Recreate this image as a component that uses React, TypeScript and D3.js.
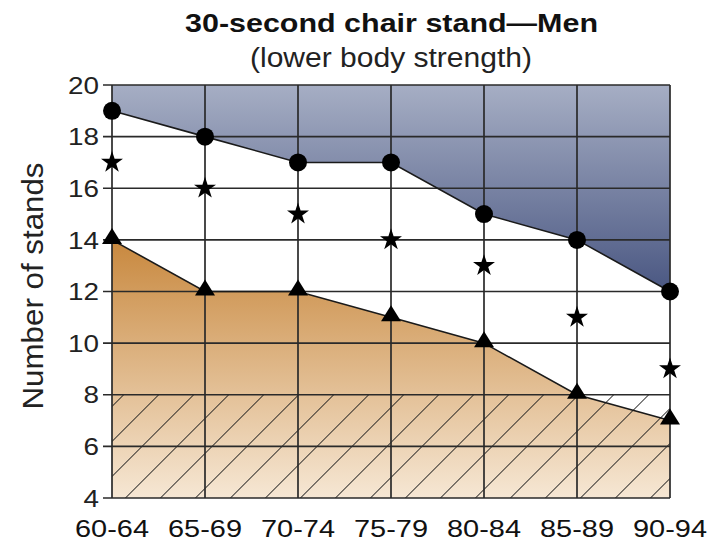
import React from "react";
import * as d3 from "d3";

const ageGroups = ["60-64", "65-69", "70-74", "75-79", "80-84", "85-89", "90-94"];
const upperValues = [19, 18, 17, 17, 15, 14, 12];
const starValues = [17, 16, 15, 14, 13, 11, 9];
const lowerValues = [14, 12, 12, 11, 10, 8, 7];
const yTicks = [4, 6, 8, 10, 12, 14, 16, 18, 20];
const hatchTop = 8;

const W = 713;
const H = 542;
const left = 112;
const right = 670;
const top = 85;
const bottom = 498;

export default function App() {
  const x = d3.scalePoint<string>().domain(ageGroups).range([left, right]);
  const y = d3.scaleLinear().domain([4, 20]).range([bottom, top]);

  const line = d3
    .line<number>()
    .x((_, i) => x(ageGroups[i]) as number)
    .y((d) => y(d));
  const upperArea = d3
    .area<number>()
    .x((_, i) => x(ageGroups[i]) as number)
    .y0(y(20))
    .y1((d) => y(d));
  const lowerArea = d3
    .area<number>()
    .x((_, i) => x(ageGroups[i]) as number)
    .y0(y(4))
    .y1((d) => y(d));

  const star = d3.symbol().type(d3.symbolStar).size(150)();
  const tri = (cx: number, cy: number) => {
    const w = 20;
    const h = 16;
    const b = cy + 4;
    return `M${cx - w / 2},${b}L${cx + w / 2},${b}L${cx},${b - h}Z`;
  };

  const grid = "#2a2a2a";
  const font = "Liberation Sans, Arial, Helvetica, sans-serif";

  return (
    <svg width={W} height={H} style={{ position: "absolute", left: 0, top: 0, background: "#fff" }}>
      <defs>
        <linearGradient id="blueGrad" x1="0" y1={y(20)} x2="0" y2={y(12)} gradientUnits="userSpaceOnUse">
          <stop offset="0" stopColor="#a6aec4" />
          <stop offset="1" stopColor="#4a5782" />
        </linearGradient>
        <linearGradient id="tanGrad" x1="0" y1={y(14)} x2="0" y2={y(4)} gradientUnits="userSpaceOnUse">
          <stop offset="0" stopColor="#c8883e" />
          <stop offset="1" stopColor="#f6e7d4" />
        </linearGradient>
        <pattern
          id="hatch"
          patternUnits="userSpaceOnUse"
          width={24.75}
          height={24.75}
          patternTransform="translate(27.7,0) rotate(45)"
        >
          <line x1={0} y1={0} x2={0} y2={24.75} stroke="#1a1a1a" strokeWidth={1.7} />
        </pattern>
        <clipPath id="hatchClip">
          <rect x={left} y={y(hatchTop)} width={right - left} height={y(4) - y(hatchTop)} />
        </clipPath>
      </defs>

      <text
        x={391.5}
        y={32}
        textAnchor="middle"
        fontFamily={font}
        fontWeight="bold"
        fontSize={25.5}
        fill="#111"
        textLength={413}
        lengthAdjust="spacingAndGlyphs"
      >
        30-second chair stand—Men
      </text>
      <text
        x={391}
        y={67}
        textAnchor="middle"
        fontFamily={font}
        fontSize={27}
        fill="#222"
        textLength={282}
        lengthAdjust="spacingAndGlyphs"
      >
        (lower body strength)
      </text>

      <path d={upperArea(upperValues) as string} fill="url(#blueGrad)" />
      <path d={lowerArea(lowerValues) as string} fill="url(#tanGrad)" />
      <rect
        x={left}
        y={y(hatchTop)}
        width={right - left}
        height={y(4) - y(hatchTop)}
        fill="url(#hatch)"
        clipPath="url(#hatchClip)"
      />

      {yTicks.map((t) => (
        <g key={t}>
          <line x1={left - 9} x2={right} y1={y(t)} y2={y(t)} stroke={grid} strokeWidth={1.7} />
          <text
            transform={`translate(99,${y(t)}) scale(1.16,1)`}
            dy="0.36em"
            textAnchor="end"
            fontFamily={font}
            fontSize={24}
            fill="#222"
          >
            {t}
          </text>
        </g>
      ))}
      {ageGroups.map((g) => (
        <g key={g}>
          <line x1={x(g)} x2={x(g)} y1={y(20)} y2={y(4)} stroke={grid} strokeWidth={1.7} />
          <text
            x={x(g)}
            y={537}
            textAnchor="middle"
            fontFamily={font}
            fontSize={24.5}
            fill="#111"
            textLength={74}
            lengthAdjust="spacingAndGlyphs"
          >
            {g}
          </text>
        </g>
      ))}

      <path d={line(upperValues) as string} fill="none" stroke="#1a1a1a" strokeWidth={1.6} />
      <path d={line(lowerValues) as string} fill="none" stroke="#1a1a1a" strokeWidth={1.6} />

      {upperValues.map((v, i) => (
        <circle key={"c" + i} cx={x(ageGroups[i])} cy={y(v)} r={9} fill="#000" />
      ))}
      {starValues.map((v, i) => (
        <path key={"s" + i} d={star as string} transform={`translate(${x(ageGroups[i])},${y(v)})`} fill="#000" />
      ))}
      {lowerValues.map((v, i) => (
        <path key={"t" + i} d={tri(x(ageGroups[i]) as number, y(v))} fill="#000" />
      ))}

      <text
        transform={`translate(43,286) rotate(-90)`}
        textAnchor="middle"
        fontFamily={font}
        fontSize={30}
        fill="#222"
        textLength={247}
        lengthAdjust="spacingAndGlyphs"
      >
        Number of stands
      </text>
    </svg>
  );
}
